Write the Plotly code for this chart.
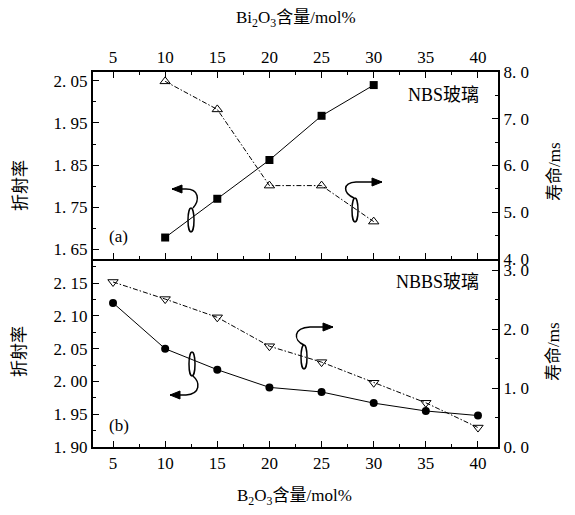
import plotly.graph_objects as go

# ---------------- data ----------------
bi2o3_content = [10, 15, 20, 25, 30]
nbs_index = [1.678, 1.77, 1.862, 1.967, 2.04]
nbs_lifetime = [7.80, 7.20, 5.57, 5.57, 4.80]

b2o3_content = [5, 10, 15, 20, 25, 30, 35, 40]
nbbs_index = [2.12, 2.05, 2.018, 1.991, 1.984, 1.967, 1.955, 1.948]
nbbs_lifetime = [2.80, 2.51, 2.20, 1.71, 1.44, 1.09, 0.75, 0.33]

NB = "\u00a0"
x_ticks = [5, 10, 15, 20, 25, 30, 35, 40]
top_left_ticks = [1.65, 1.75, 1.85, 1.95, 2.05]
top_left_labels = ["1." + NB + "65", "1." + NB + "75", "1." + NB + "85", "1." + NB + "95", "2." + NB + "05"]
top_right_ticks = [4, 5, 6, 7, 8]
top_right_labels = ["4." + NB + "0", "5." + NB + "0", "6." + NB + "0", "7." + NB + "0", "8." + NB + "0"]
bot_left_ticks = [1.90, 1.95, 2.00, 2.05, 2.10, 2.15]
bot_left_labels = ["1." + NB + "90", "1." + NB + "95", "2." + NB + "00", "2." + NB + "05", "2." + NB + "10", "2." + NB + "15"]
bot_right_ticks = [0, 1, 2, 3]
bot_right_labels = ["0." + NB + "0", "1." + NB + "0", "2." + NB + "0", "3." + NB + "0"]

# ---------------- layout geometry (page pixels) ----------------
PAGE_W, PAGE_H = 575, 515
BODY = 8  # default body margin of the html page
W, H = PAGE_W - 2 * BODY, PAGE_H - 2 * BODY
L, R, T, B = 93, 498, 72, 447
SPLIT = (B - 259) / (B - T)

FONT = "Liberation Serif, 'Noto Sans CJK SC', serif"


def px(x):
    return (x - L) / (R - L)


def py(y):
    return (B - y) / (B - T)


fig = go.Figure()

DASH = "5px,2px,1.5px,2px"

fig.add_trace(go.Scatter(x=bi2o3_content, y=nbs_index, xaxis="x2", yaxis="y3",
                         mode="lines+markers",
                         line=dict(color="black", width=1),
                         marker=dict(symbol="square", size=8, color="black")))
fig.add_trace(go.Scatter(x=bi2o3_content, y=nbs_lifetime, xaxis="x2", yaxis="y4",
                         mode="lines+markers",
                         line=dict(color="black", width=1, dash=DASH),
                         marker=dict(symbol="triangle-up-open", size=9, color="black",
                                     line=dict(width=1))))
fig.add_trace(go.Scatter(x=b2o3_content, y=nbbs_index, xaxis="x", yaxis="y",
                         mode="lines+markers",
                         line=dict(color="black", width=1),
                         marker=dict(symbol="circle", size=8, color="black")))
fig.add_trace(go.Scatter(x=b2o3_content, y=nbbs_lifetime, xaxis="x", yaxis="y2",
                         mode="lines+markers",
                         line=dict(color="black", width=1, dash=DASH),
                         marker=dict(symbol="triangle-down-open", size=9, color="black",
                                     line=dict(width=1))))

tickfont = dict(family=FONT, size=17, color="black")
common_x = dict(range=[3.08, 41.92], tickvals=x_ticks, ticks="inside", ticklen=6,
                tickwidth=1, tickcolor="black", showline=True, linecolor="black",
                linewidth=2, showgrid=False, zeroline=False, tickfont=tickfont,
                minor=dict(ticks="inside", ticklen=3, dtick=2.5, tick0=5,
                           tickcolor="black", showgrid=False))


def yax(rng, vals, labels, minor_dtick, minor_tick0, **kw):
    d = dict(range=rng, tickvals=vals, ticktext=labels, ticks="inside", ticklen=6,
             tickwidth=1, tickcolor="black", showline=True, linecolor="black",
             linewidth=2, showgrid=False, zeroline=False, tickfont=tickfont,
             minor=dict(ticks="inside", ticklen=3, dtick=minor_dtick, tick0=minor_tick0,
                        tickcolor="black", showgrid=False))
    d.update(kw)
    return d


fig.update_layout(
    width=W, height=H,
    margin=dict(l=L - BODY, r=W - (R - BODY), t=T - BODY, b=H - (B - BODY), pad=0),
    paper_bgcolor="white", plot_bgcolor="white",
    showlegend=False,
    font=dict(family=FONT, size=17, color="black"),
    xaxis=dict(common_x, anchor="y", side="bottom", mirror=False, domain=[0, 1]),
    xaxis2=dict(common_x, anchor="y3", side="top", mirror="ticks", domain=[0, 1]),
    yaxis=yax([1.90, 2.187], bot_left_ticks, bot_left_labels, 0.025, 1.90,
              domain=[0, SPLIT], anchor="x", side="left"),
    yaxis2=yax([0, 3.19], bot_right_ticks, bot_right_labels, 0.5, 0,
               overlaying="y", anchor="x", side="right"),
    yaxis3=yax([1.627, 2.071], top_left_ticks, top_left_labels, 0.05, 1.65,
               domain=[SPLIT, 1], anchor="x2", side="left"),
    yaxis4=yax([4, 8], top_right_ticks, top_right_labels, 0.5, 4,
               overlaying="y3", anchor="x2", side="right"),
)

# ---------------- text ----------------
ann = []


def text(s, x, y, size=17, angle=0, xanchor="center"):
    ann.append(dict(text=s, x=px(x), y=py(y), xref="paper", yref="paper",
                    showarrow=False, textangle=angle, xanchor=xanchor, yanchor="middle",
                    font=dict(family=FONT, size=size, color="black")))


text("Bi<sub>2</sub>O<sub>3</sub>含量/mol%", 296, 19)
text("B<sub>2</sub>O<sub>3</sub>含量/mol%", 294, 497)
text("折射率", 20, 186, angle=-90)
text("折射率", 20, 352, angle=-90)
text("寿命/ms", 554, 172, angle=-90)
text("寿命/ms", 554, 352, angle=-90)
text("NBS玻璃", 481, 95, size=18, xanchor="right")
text("NBBS玻璃", 481, 282, size=18, xanchor="right")
text("(a)", 107, 237, xanchor="left")
text("(b)", 107, 425, xanchor="left")
fig.update_layout(annotations=ann)

# ---------------- decorative ellipses & curved arrows ----------------
shapes = []


def ellipse(cx, cy, rx, ry):
    shapes.append(dict(type="circle", xref="paper", yref="paper",
                       x0=px(cx - rx), x1=px(cx + rx), y0=py(cy + ry), y1=py(cy - ry),
                       line=dict(color="black", width=1.5)))


def curve(p0, c1, c2, p3, tip):
    path = "M {},{} C {},{} {},{} {},{} L {},{}".format(
        px(p0[0]), py(p0[1]), px(c1[0]), py(c1[1]), px(c2[0]), py(c2[1]),
        px(p3[0]), py(p3[1]), px(tip[0]), py(tip[1]))
    shapes.append(dict(type="path", xref="paper", yref="paper", path=path,
                       line=dict(color="black", width=1.5)))
    d = 1 if tip[0] > p3[0] else -1
    bx = tip[0] - d * 10
    head = "M {},{} L {},{} L {},{} Z".format(
        px(tip[0]), py(tip[1]), px(bx), py(tip[1] - 4), px(bx), py(tip[1] + 4))
    shapes.append(dict(type="path", xref="paper", yref="paper", path=head,
                       fillcolor="black", line=dict(color="black", width=1)))


# panel (a), left
ellipse(191, 220, 3, 12)
curve((193, 208), (200, 200), (199, 189), (186, 189), (172, 189))
# panel (a), right
ellipse(355, 210, 3, 12)
curve((354, 198), (343, 193), (342, 183), (356, 182), (382, 182))
# panel (b), left
ellipse(192, 364, 3, 12)
curve((193, 376), (200, 382), (201, 394), (186, 395), (170, 395))
# panel (b), right
ellipse(304, 357, 3, 12)
curve((304, 345), (293, 340), (293, 328), (310, 327), (333, 327))

fig.update_layout(shapes=shapes)

fig.write_html("out.html")
